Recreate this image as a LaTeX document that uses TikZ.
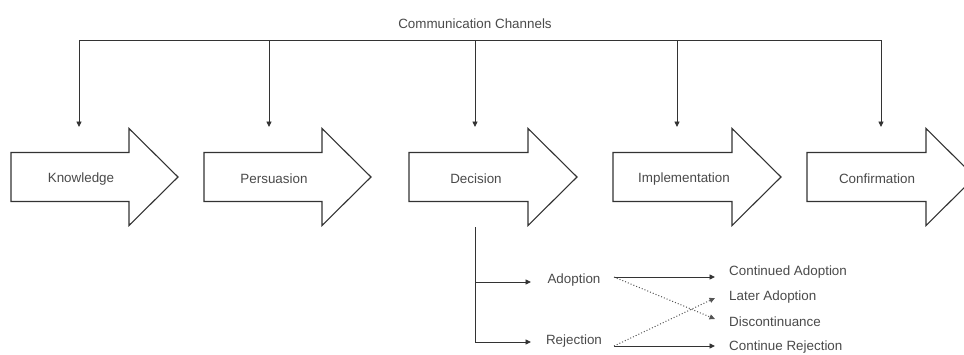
\documentclass[tikz,border=0pt]{standalone}
\usepackage{fontspec}
\setmainfont{Liberation Sans}
\usetikzlibrary{arrows.meta}
\definecolor{ink}{HTML}{333333}
\definecolor{txt}{HTML}{4A4A4A}
\definecolor{dots}{HTML}{555555}
\begin{document}
\begin{tikzpicture}[x=1pt,y=-1pt,
  stage/.style={draw=ink,line width=1.1pt,line join=miter,fill=white},
  wire/.style={draw=ink,line width=0.9pt},
  feed/.style={draw=ink,line width=0.9pt,-{Triangle[length=5.5pt,width=5pt]}},
  dotfeed/.style={draw=dots,line width=1pt,dotted,-{Triangle[length=5.5pt,width=5pt]}},
  label/.style={text=txt,font=\fontsize{13.4}{15}\selectfont,inner sep=0pt}]
\useasboundingbox (0,0) rectangle (964,354);
\clip (0,0) rectangle (964,354);

% the five stages of the process, drawn as block arrows
\foreach \L/\B/\nm/\txt/\tx in {11/129/know/Knowledge/81,
                                 204/322/pers/Persuasion/274,
                                 409/528/deci/Decision/476,
                                 613/732/impl/Implementation/684,
                                 807/926/conf/Confirmation/877}{
  \draw[stage] (\L,152.5) -- (\B,152.5) -- (\B,128.5) -- (\B+49,177)
               -- (\B,225.5) -- (\B,201.5) -- (\L,201.5) -- cycle;
  \node[label] (\nm) at (\tx,179) {\txt};
}

% communication channels feeding every stage
\node[label] (cc) at (475,24) {Communication Channels};
\coordinate (bus-know) at (79,40);
\coordinate (bus-pers) at (269,40);
\coordinate (bus-deci) at (475,40);
\coordinate (bus-impl) at (677,40);
\coordinate (bus-conf) at (881,40);
\draw[wire] (bus-know) -- (bus-conf);
\foreach \nm in {know,pers,deci,impl,conf}
  \draw[feed] (bus-\nm) -- ([yshift=-87pt]bus-\nm);

% outcomes of the decision
\coordinate (split-top) at (475,227);
\coordinate (split-a) at (475,282);
\coordinate (split-r) at (475,342);
\node[label] (adopt) at (574,280) {Adoption};
\node[label] (reject) at (574,341) {Rejection};
\draw[wire] (split-top) -- (split-r);
\draw[feed] (split-a) -- (531,282);
\draw[feed] (split-r) -- (531,342);

\node[label,anchor=west] (cadopt) at (729,272) {Continued Adoption};
\node[label,anchor=west] (ladopt) at (729,297) {Later Adoption};
\node[label,anchor=west] (discon) at (729,322) {Discontinuance};
\node[label,anchor=west] (crej) at (729,347) {Continue Rejection};

\coordinate (a-out) at (614,277);
\coordinate (r-out) at (614,346);
\draw[feed] (a-out) -- (715,277);
\draw[feed] (r-out) -- (715,346);
\draw[dotfeed] (a-out) -- (715,319);
\draw[dotfeed] (r-out) -- (715,298);
\end{tikzpicture}
\end{document}
